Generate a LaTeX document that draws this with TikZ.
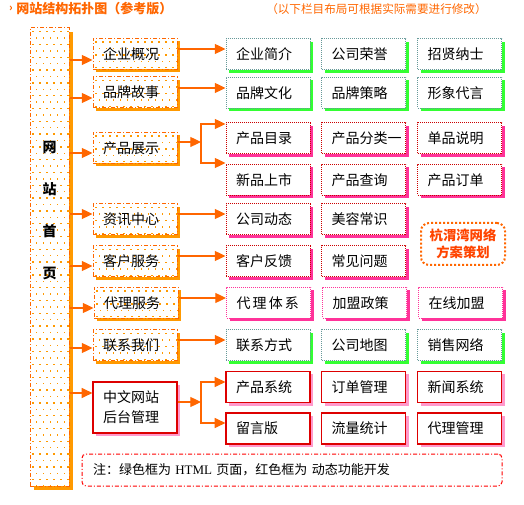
\documentclass[tikz,border=0pt]{standalone}
\usepackage{fontspec}
\setmainfont{Noto Sans CJK SC}
\newfontfamily\latinserif{Liberation Serif}
\usetikzlibrary{arrows.meta,shadows}
\definecolor{oline}{HTML}{FF6600}
\definecolor{oshadow}{HTML}{FF9900}
\definecolor{odots}{HTML}{FF9900}
\definecolor{gborder}{HTML}{669999}
\definecolor{gshadow}{HTML}{33FF33}
\definecolor{pshadow}{HTML}{FF3399}
\definecolor{rdot}{HTML}{CC0000}
\definecolor{pborder}{HTML}{FF3399}
\definecolor{rsolid}{HTML}{DD0000}
\definecolor{rshadow}{HTML}{FF99CC}
\definecolor{hztext}{HTML}{FF4400}
\definecolor{notered}{HTML}{FF0000}
\begin{document}
\begin{tikzpicture}[x=0.75pt,y=-0.75pt,
  boxfont/.style={font=\fontsize{10.5}{12}\selectfont},
  base/.style={rectangle, minimum height=23.25pt, inner ysep=0pt, inner xsep=7.5pt,
    text width=48pt, align=left, boxfont},
  dotfill/.style={fill=white, path picture={
      \foreach \j in {0,...,#1} {
        \pgfmathsetmacro{\off}{mod(\j,2)*2.6}
        \foreach \i in {0,...,11} {
          \fill[odots] ([xshift=\i*5.25pt+\off pt+1.8pt, yshift=-\j*4.8pt-2.2pt]path picture bounding box.north west) rectangle ++(1.05pt,-1.05pt);
        }
      }}},
  dashdotline/.style={dash pattern=on 3pt off 1.5pt on 0.75pt off 1.5pt},
  cat/.style={base, draw=oline, line width=0.75pt, dashdotline,
    drop shadow={fill=oshadow, opacity=1, shadow xshift=2.25pt, shadow yshift=-2.25pt}, dotfill=5},
  lcol/.style={rectangle, draw=oline, line width=0.75pt, dashdotline, minimum width=29.25pt,
    minimum height=343.5pt, inner sep=0pt,
    drop shadow={fill=oshadow, opacity=1, shadow xshift=3pt, shadow yshift=-3pt}, dotfill=72},
  grn/.style={base, draw=gborder, line width=0.75pt, dash pattern=on 0.75pt off 0.75pt, fill=white,
    drop shadow={fill=gshadow, opacity=1, shadow xshift=2.25pt, shadow yshift=-2.25pt}},
  pnk/.style={base, draw=rdot, line width=0.75pt, dash pattern=on 0.75pt off 0.75pt, fill=white,
    drop shadow={fill=pshadow, opacity=1, shadow xshift=2.25pt, shadow yshift=-2.25pt}},
  pnkb/.style={base, draw=pborder, line width=0.75pt, dash pattern=on 0.75pt off 0.75pt, fill=white,
    drop shadow={fill=pshadow, opacity=1, shadow xshift=2.25pt, shadow yshift=-2.25pt}},
  redbox/.style={base, draw=rsolid, line width=0.9pt, fill=white,
    drop shadow={fill=rshadow, opacity=1, shadow xshift=2.25pt, shadow yshift=-2.25pt}},
  conn/.style={draw=oline, line width=0.9pt, -{Triangle[length=8pt,width=7.5pt]}},
]
\useasboundingbox (0,0) rectangle (524,505);

% title
\node[text=oline, font=\fontsize{8}{9}\selectfont\bfseries, inner sep=0pt] (bl) at (11,9) {›};
\node[anchor=west, inner sep=0pt, text=oline, font=\fontsize{9.75}{11}\selectfont\bfseries] (ttl) at (16,9) {网站结构拓扑图（参考版）};
\node[anchor=west, inner sep=0pt, text=oline, font=\fontsize{8.7}{10}\selectfont] (rn) at (266,9) {（以下栏目布局可根据实际需要进行修改）};

% left column
\node[lcol] (lc) at (49.5,257) {};
\node[align=center, inner sep=0pt, font=\fontsize{10.5}{31.5}\selectfont\bfseries] (lct) at (49.5,210.5) {网\\站\\首\\页};

% categories
\node[cat] (c1) at (135,54) {企业概况};
\node[cat] (c2) at (135,92.5) {品牌故事};
\node[cat] (c3) at (135,148) {产品展示};
\node[cat] (c4) at (135,219.5) {资讯中心};
\node[cat] (c5) at (135,261.5) {客户服务};
\node[cat] (c6) at (136,303) {代理服务};
\node[cat] (c7) at (135,345.5) {联系我们};
\node[redbox, minimum height=38.25pt, font=\fontsize{10.5}{15}\selectfont] (c8) at (135,407.5) {中文网站\\后台管理};

% sub boxes
\node[grn] (s11) at (268,54.5) {企业简介};
\node[grn] (s12) at (363.5,54.5) {公司荣誉};
\node[grn] (s13) at (459.5,54.5) {招贤纳士};
\node[grn] (s21) at (268,93) {品牌文化};
\node[grn] (s22) at (363.5,93) {品牌策略};
\node[grn] (s23) at (459.5,93) {形象代言};
\node[pnk] (s31) at (268,138.5) {产品目录};
\node[pnk] (s32) at (363.5,138.5) {产品分类一};
\node[pnk] (s33) at (459.5,138.5) {单品说明};
\node[pnk] (s41) at (268,180) {新品上市};
\node[pnk] (s42) at (363.5,180) {产品查询};
\node[pnk] (s43) at (459.5,180) {产品订单};
\node[pnk] (s51) at (268,219.5) {公司动态};
\node[pnk] (s52) at (363.5,219.5) {美容常识};
\node[pnk] (s61) at (268,261.5) {客户反馈};
\node[pnk] (s62) at (363.5,261.5) {常见问题};
\node[pnkb] (s71) at (268.5,303) {\mbox{代\hspace{1.6pt}理\hspace{1.6pt}体\hspace{1.6pt}系}};
\node[pnkb] (s72) at (364.5,303) {加盟政策};
\node[pnkb] (s73) at (460.5,303) {在线加盟};
\node[grn] (s81) at (268,345.5) {联系方式};
\node[grn] (s82) at (363.5,345.5) {公司地图};
\node[grn] (s83) at (459.5,345.5) {销售网络};
\node[redbox] (s91) at (268,387) {产品系统};
\node[redbox] (s92) at (363.5,387) {订单管理};
\node[redbox] (s93) at (459.5,387) {新闻系统};
\node[redbox] (s101) at (268,428.5) {留言版};
\node[redbox] (s102) at (363.5,428.5) {流量统计};
\node[redbox] (s103) at (459.5,428.5) {代理管理};

% hangzhou box
\node[draw=oline, line width=1.5pt, dash pattern=on 1.5pt off 1.5pt, rounded corners=6pt,
  minimum width=63pt, minimum height=31.5pt, inner sep=0pt, align=center, text=hztext,
  font=\fontsize{10}{13}\selectfont\bfseries] (hz) at (463,244) {杭渭湾网络\\方案策划};

% note box
\node[draw=notered, line width=0.75pt, dashdotline, rounded corners=3pt,
  minimum height=24pt, inner xsep=8.25pt, inner ysep=0pt, text width=298.5pt, align=left,
  font=\fontsize{9.75}{11}\selectfont] (nt) at (292,470)
  {注：绿色框为 {\latinserif HTML} 页面，红色框为 动态功能开发};

% connectors: left column to categories
\foreach \n/\y in {c1/60, c2/98, c3/153, c4/214, c5/266, c6/308, c7/348, c8/393}
  \draw[conn] (lc.east |- 0,\y) -- (\n.west |- 0,\y);

% categories to sub boxes
\foreach \a/\b/\y in {c1/s11/49, c2/s21/88, c4/s51/214, c5/s61/256, c6/s71/298, c7/s81/340}
  \draw[conn] (\a.east |- 0,\y) -- (\b.west |- 0,\y);

% branches
\coordinate (b3) at (201,142);
\draw[conn] (c3.east |- b3) -- (b3);
\draw[conn] (b3) |- (s31.west |- 0,124);
\draw[conn] (b3) |- (s41.west |- 0,163);

\coordinate (b8) at (201,402);
\draw[conn] (c8.east |- b8) -- (b8);
\draw[conn] (b8) |- (s91.west |- 0,382);
\draw[conn] (b8) |- (s101.west |- 0,423);
\end{tikzpicture}
\end{document}
